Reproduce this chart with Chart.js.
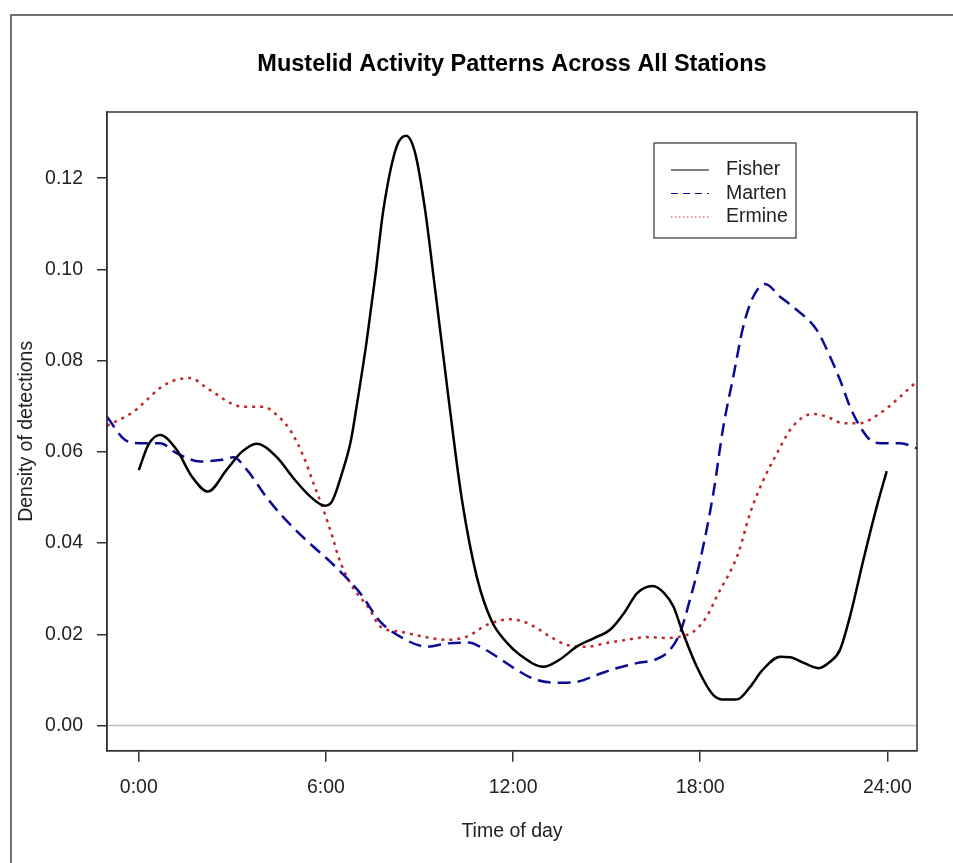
<!DOCTYPE html>
<html>
<head>
    <title>Mustelid Activity Patterns</title>
    <script src="https://cdn.jsdelivr.net/npm/chart.js@4/dist/chart.umd.min.js"></script>
    <style>
        body { margin: 0; background: #fff; }
        #chart { display: block; }
    </style>
</head>
<body>
    <canvas id="chart" width="953" height="863"></canvas>

    <script>
        // values (hour of day, density)
        const fisherHours = [0, 0.3, 0.68, 1.22, 1.7, 2.22, 2.82, 3.3, 3.78, 4.4, 5.0, 5.5, 5.97, 6.2, 6.5, 6.8, 7.0, 7.3, 7.58, 7.84, 8.27, 8.57, 8.86, 9.18, 9.45, 9.95, 10.36, 10.84, 11.32, 11.8, 12.22, 12.97, 13.5, 14.04, 14.6, 15.11, 15.59, 15.97, 16.48, 16.85, 17.14, 17.41, 17.89, 18.42, 18.8, 19.2, 19.6, 20.0, 20.56, 20.88, 21.3, 21.79, 22.16, 22.48, 22.8, 23.23, 23.66, 23.98];
        const fisherDensity = [0.056, 0.0615, 0.0637, 0.0604, 0.0546, 0.0513, 0.0561, 0.06, 0.0618, 0.059, 0.0539, 0.0502, 0.0482, 0.0492, 0.055, 0.0625, 0.0707, 0.084, 0.0984, 0.113, 0.127, 0.1293, 0.1255, 0.113, 0.0984, 0.0707, 0.0495, 0.0325, 0.0228, 0.0182, 0.0155, 0.0129, 0.0145, 0.0173, 0.0192, 0.021, 0.025, 0.029, 0.0306, 0.029, 0.0261, 0.021, 0.0129, 0.0067, 0.0057, 0.0058, 0.0085, 0.0122, 0.0151, 0.015, 0.0138, 0.0126, 0.014, 0.0166, 0.0239, 0.0363, 0.048, 0.0558];

        const martenHours = [-1.02, -0.44, 0.04, 0.68, 1.22, 1.97, 2.61, 3.03, 3.46, 4.1, 4.75, 5.6, 6.0, 6.5, 7.1, 7.74, 8.38, 9.23, 9.87, 10.57, 10.94, 11.48, 12.12, 12.76, 13.51, 14.04, 14.68, 15.22, 15.97, 16.61, 17.03, 17.35, 17.67, 18.0, 18.42, 18.74, 19.06, 19.38, 19.7, 20.08, 20.56, 21.1, 21.74, 22.16, 22.48, 22.8, 23.13, 23.45, 23.77, 24.41, 24.95];
        const martenDensity = [0.0677, 0.0626, 0.0619, 0.0619, 0.0597, 0.0579, 0.0582, 0.0588, 0.0561, 0.05, 0.0448, 0.0392, 0.0368, 0.0335, 0.029, 0.0228, 0.0195, 0.0173, 0.018, 0.0182, 0.0173, 0.0151, 0.0122, 0.01, 0.0094, 0.0096, 0.0111, 0.0124, 0.0137, 0.0146, 0.0166, 0.0203, 0.0276, 0.0363, 0.0509, 0.0655, 0.0765, 0.0875, 0.094, 0.0968, 0.094, 0.0911, 0.0867, 0.0809, 0.0758, 0.0699, 0.0655, 0.0626, 0.0619, 0.0619, 0.0608];

        const ermineHours = [-1.02, -0.17, 0.15, 0.68, 1.11, 1.64, 2.18, 2.61, 2.93, 3.35, 3.99, 4.42, 4.85, 5.28, 5.6, 5.92, 6.24, 6.4, 6.8, 7.4, 7.74, 8.38, 9.12, 9.87, 10.52, 11.16, 11.9, 12.33, 12.76, 13.19, 13.72, 14.36, 15.0, 15.65, 16.29, 16.93, 17.35, 17.78, 18.21, 18.53, 19.22, 19.6, 20.03, 20.46, 20.88, 21.31, 21.63, 22.06, 22.59, 23.13, 23.77, 24.3, 24.83, 24.95];
        const ermineDensity = [0.0657, 0.0688, 0.0707, 0.074, 0.0756, 0.0762, 0.074, 0.0721, 0.0707, 0.0699, 0.0699, 0.0681, 0.0648, 0.059, 0.0531, 0.0473, 0.0407, 0.037, 0.031, 0.0255, 0.0217, 0.0206, 0.0195, 0.0188, 0.0195, 0.0221, 0.0233, 0.0228, 0.0214, 0.0195, 0.0177, 0.0173, 0.0181, 0.0188, 0.0194, 0.0192, 0.0195, 0.0206, 0.0239, 0.0283, 0.0378, 0.0466, 0.0539, 0.0597, 0.0648, 0.0677, 0.0683, 0.0677, 0.0663, 0.0663, 0.0685, 0.0714, 0.0747, 0.0753];

        const xTicks = [0, 6, 12, 18, 24];
        const yTicks = [0, 0.02, 0.04, 0.06, 0.08, 0.10, 0.12];

        const FONT = 'Arial, "Liberation Sans", sans-serif';

        function toPoints(xs, ys) {
            return xs.map((x, i) => ({ x: x, y: ys[i] }));
        }

        // page frame, zero line, plot box, titles and the legend
        const decorations = {
            id: 'decorations',
            beforeDraw(chart) {
                const ctx = chart.ctx;
                ctx.save();
                ctx.fillStyle = '#fff';
                ctx.fillRect(0, 0, chart.width, chart.height);
                ctx.strokeStyle = '#444';
                ctx.lineWidth = 1.5;
                ctx.beginPath();
                ctx.moveTo(11, chart.height);
                ctx.lineTo(11, 15);
                ctx.lineTo(chart.width, 15);
                ctx.stroke();
                ctx.restore();
            },
            beforeDatasetsDraw(chart) {
                const ctx = chart.ctx;
                const area = chart.chartArea;
                const y0 = chart.scales.y.getPixelForValue(0);
                ctx.save();
                ctx.strokeStyle = '#bebebe';
                ctx.lineWidth = 1.5;
                ctx.beginPath();
                ctx.moveTo(area.left, y0);
                ctx.lineTo(area.right, y0);
                ctx.stroke();
                ctx.restore();
            },
            afterDraw(chart) {
                const ctx = chart.ctx;
                const area = chart.chartArea;
                const midX = (area.left + area.right) / 2;
                const midY = (area.top + area.bottom) / 2;
                ctx.save();

                ctx.strokeStyle = '#333';
                ctx.lineWidth = 1.5;
                ctx.strokeRect(area.left, area.top, area.right - area.left, area.bottom - area.top);

                ctx.fillStyle = '#000';
                ctx.textAlign = 'center';
                ctx.textBaseline = 'middle';
                ctx.font = 'bold 23.5px ' + FONT;
                ctx.fillText('Mustelid Activity Patterns Across All Stations', midX, 65);

                ctx.fillStyle = '#222';
                ctx.font = '19.5px ' + FONT;
                ctx.fillText('Time of day', midX, 832);

                ctx.save();
                ctx.translate(27, midY);
                ctx.rotate(-Math.PI / 2);
                ctx.fillText('Density of detections', 0, 0);
                ctx.restore();

                // legend box
                const lx = 654, ly = 143, lw = 142, lh = 95;
                ctx.fillStyle = '#fff';
                ctx.fillRect(lx, ly, lw, lh);
                ctx.strokeStyle = '#333';
                ctx.lineWidth = 1.2;
                ctx.strokeRect(lx, ly, lw, lh);

                const rows = [170, 193.5, 217];
                chart.data.datasets.forEach((ds, i) => {
                    ctx.strokeStyle = ds.borderColor;
                    ctx.lineWidth = 1.2;
                    ctx.setLineDash(ds.legendDash);
                    ctx.beginPath();
                    ctx.moveTo(671, rows[i]);
                    ctx.lineTo(709, rows[i]);
                    ctx.stroke();
                    ctx.setLineDash([]);
                    ctx.fillStyle = '#222';
                    ctx.textAlign = 'left';
                    ctx.fillText(ds.label, 726, rows[i]);
                });

                ctx.restore();
            }
        };

        new Chart(document.getElementById('chart'), {
            type: 'line',
            data: {
                datasets: [{
                    label: 'Fisher',
                    data: toPoints(fisherHours, fisherDensity),
                    borderColor: '#000000',
                    borderWidth: 2.5,
                    borderDash: [],
                    legendDash: []
                }, {
                    label: 'Marten',
                    data: toPoints(martenHours, martenDensity),
                    borderColor: '#0b0b96',
                    borderWidth: 2.5,
                    borderDash: [13, 7],
                    legendDash: [7, 5]
                }, {
                    label: 'Ermine',
                    data: toPoints(ermineHours, ermineDensity),
                    borderColor: '#c0282a',
                    borderWidth: 2.5,
                    borderDash: [3, 5],
                    legendDash: [1.5, 2.5]
                }]
            },
            options: {
                responsive: false,
                animation: false,
                events: [],
                layout: { padding: { top: 112, right: 36, left: 0, bottom: 0 } },
                elements: {
                    point: { radius: 0 },
                    line: { cubicInterpolationMode: 'monotone', fill: false, borderCapStyle: 'butt' }
                },
                plugins: {
                    legend: { display: false },
                    tooltip: { enabled: false },
                    title: { display: false }
                },
                scales: {
                    x: {
                        type: 'linear',
                        min: -1.02,
                        max: 24.95,
                        afterFit(scale) { scale.height = 112.3; },
                        afterBuildTicks(scale) { scale.ticks = xTicks.map(v => ({ value: v })); },
                        ticks: {
                            includeBounds: false,
                            padding: 14,
                            color: '#222',
                            font: { family: FONT, size: 19.5 },
                            callback: v => v + ':00',
                            maxRotation: 0
                        },
                        grid: { drawOnChartArea: false, drawTicks: true, tickLength: 11, color: '#333', lineWidth: 1.5 },
                        border: { display: true, color: '#333', width: 1.5 }
                    },
                    y: {
                        type: 'linear',
                        min: -0.0055,
                        max: 0.1345,
                        afterFit(scale) { scale.width = 107; },
                        afterBuildTicks(scale) { scale.ticks = yTicks.map(v => ({ value: v })); },
                        ticks: {
                            includeBounds: false,
                            padding: 14,
                            color: '#222',
                            font: { family: FONT, size: 19.5 },
                            callback: v => v.toFixed(2)
                        },
                        grid: { drawOnChartArea: false, drawTicks: true, tickLength: 10, color: '#333', lineWidth: 1.5 },
                        border: { display: true, color: '#333', width: 1.5 }
                    }
                }
            },
            plugins: [decorations]
        });
    </script>
</body>
</html>
